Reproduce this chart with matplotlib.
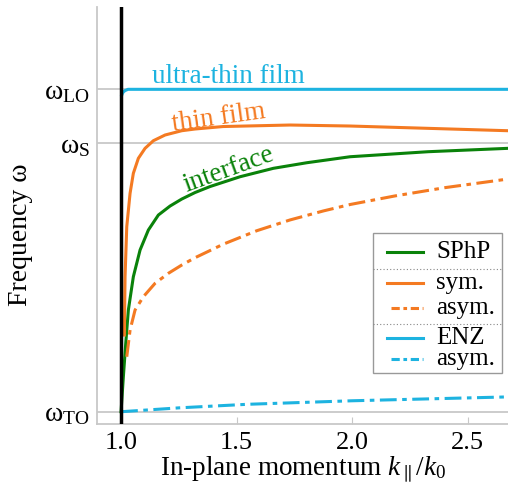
import matplotlib
matplotlib.use('Agg')
import matplotlib.pyplot as plt
from matplotlib.lines import Line2D
from matplotlib.patches import Rectangle

plt.rcParams['font.family'] = ['Liberation Serif', 'DejaVu Serif']
plt.rcParams['mathtext.fontset'] = 'custom'
plt.rcParams['mathtext.rm'] = 'Liberation Serif'
plt.rcParams['mathtext.it'] = 'Liberation Serif:italic'

# frequencies normalised so that w_TO = 0 and w_LO = 1
w_to, w_s, w_lo = 0.0, 0.8325, 1.0

# interface SPhP
k_sphp = [1.0, 1.010, 1.0203, 1.0316, 1.0532, 1.0823, 1.1182, 1.1615, 1.2121, 1.2628,
          1.3203, 1.3853, 1.5152, 1.6593, 1.8039, 1.9913, 2.329, 2.6753]
w_sphp = [0.0, 0.1086, 0.2122, 0.3154, 0.4187, 0.5016, 0.5636, 0.6101, 0.6380, 0.6597,
          0.6799, 0.6985, 0.7289, 0.7550, 0.7723, 0.7909, 0.8065, 0.8170]

# thin film, symmetric
k_sym = [1.0143, 1.0173, 1.0247, 1.039, 1.0532, 1.0749, 1.1039, 1.1398, 1.1905, 1.2628,
         1.3203, 1.4416, 1.7316, 1.9913, 2.329, 2.6753]
w_sym = [0.2379, 0.4187, 0.5738, 0.6774, 0.7395, 0.7860, 0.8170, 0.8406, 0.8583, 0.8716,
         0.8769, 0.8846, 0.8893, 0.8862, 0.8790, 0.8716]

# thin film, asymmetric
k_asym = [1.0247, 1.039, 1.0606, 1.0965, 1.1472, 1.2048, 1.2628, 1.3203, 1.4429, 1.5874,
          1.7316, 1.8758, 1.9913, 2.1861, 2.4026, 2.6753]
w_asym = [0.1706, 0.2534, 0.3154, 0.3567, 0.3983, 0.4293, 0.4550, 0.4777, 0.5198, 0.5614,
          0.5949, 0.6228, 0.6427, 0.6694, 0.6951, 0.7218]

# ultra-thin film (ENZ), symmetric / asymmetric
k_enz = [1.003, 1.007, 1.012, 1.017, 1.03, 1.1, 1.5, 2.0, 2.6753]
w_enz = [0.982, 0.989, 0.993, 0.996, 1.0, 1.0, 1.0, 1.0, 1.0]
k_enz_asym = [1.0, 1.25, 1.545, 2.0, 2.6753]
w_enz_asym = [0.0, 0.012, 0.023, 0.034, 0.046]

green = '#0a820a'
orange = '#f47a22'
cyan = '#1db3e0'
grey = '#c8c8c8'
dashdot = (5.5, 1.8, 1.5, 1.8)

fig = plt.figure(figsize=(5.08, 4.84), dpi=100)
ax = fig.add_axes([0.191, 0.124, 0.809, 0.8615])

ax.set_xlim(0.896, 2.675)
ax.set_ylim(-0.038, 1.2553)

ax.set_yticks([w_to, w_s, w_lo])
ax.set_yticklabels([r'$\mathrm{ω}_{\mathrm{TO}}$', r'$\mathrm{ω}_{\mathrm{S}}$',
                    r'$\mathrm{ω}_{\mathrm{LO}}$'], fontsize=20)
ax.set_xticks([1.0, 1.5, 2.0, 2.5])
ax.set_xticklabels(['1.0', '1.5', '2.0', '2.5'], fontsize=19)
ax.tick_params(axis='y', length=0, pad=5)
ax.tick_params(axis='x', direction='in', length=5, color=grey, pad=6)
ax.grid(axis='y', color=grey, lw=1.3)
ax.set_axisbelow(True)
for s in ['top', 'right']:
    ax.spines[s].set_visible(False)
for s in ['left', 'bottom']:
    ax.spines[s].set_color(grey)
    ax.spines[s].set_linewidth(1.3)

ax.axvline(1.0, color='black', lw=2.5, zorder=5)

lw = 2.2
ax.plot(k_sphp, w_sphp, color=green, lw=lw)
ax.plot(k_sym, w_sym, color=orange, lw=lw)
ax.plot(k_asym, w_asym, color=orange, lw=lw, dashes=dashdot)
ax.plot(k_enz, w_enz, color=cyan, lw=lw)
ax.plot(k_enz_asym, w_enz_asym, color=cyan, lw=lw, dashes=dashdot)

ax.text(1.463, 1.041, 'ultra-thin film', color=cyan, fontsize=19.5,
        ha='center', va='center')
ax.text(1.424, 0.911, 'thin film', color=orange, fontsize=19.5,
        ha='center', va='center', rotation=8, rotation_mode='anchor')
ax.text(1.468, 0.752, 'interface', color=green, fontsize=19.5,
        ha='center', va='center', rotation=20, rotation_mode='anchor')

ax.set_xlabel(r'In-plane momentum $k_\parallel/k_0$', fontsize=19.5, labelpad=0)
ax.set_ylabel('Frequency ω', fontsize=20)
ax.yaxis.set_label_coords(-0.155, 0.453)

# legend drawn by hand so the groups can be split by dotted rules
T = ax.transAxes
ax.add_patch(Rectangle((0.6715, 0.1223), 0.3135, 0.3365, transform=T,
                       facecolor='white', edgecolor='#999999', lw=1.0, zorder=6))
rows = [(0.413, green, None, 'SPhP'),
        (0.338, orange, None, 'sym.'),
        (0.279, orange, dashdot, 'asym.'),
        (0.206, cyan, None, 'ENZ'),
        (0.156, cyan, dashdot, 'asym.')]
for fy, c, d, lab in rows:
    h = Line2D([0.705, 0.792], [fy, fy], transform=T, color=c, lw=lw, zorder=7)
    if d is not None:
        h.set_dashes((2.7, 1.2, 1.2, 1.2))
        h.set_xdata([0.715, 0.792])
    ax.add_line(h)
    ax.text(0.825, fy, lab, transform=T, fontsize=18, va='center', zorder=7)
for fy in [0.372, 0.240]:
    ax.add_line(Line2D([0.6715, 0.985], [fy, fy], transform=T, color='#888888',
                       lw=0.8, ls=(0, (1, 2)), zorder=7))

fig.savefig('out.png', dpi=100)
